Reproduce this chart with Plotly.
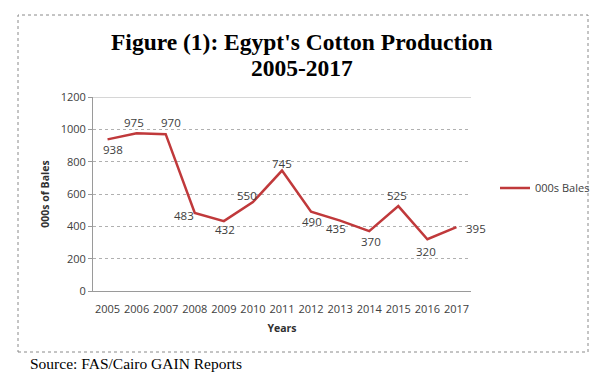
import plotly.graph_objects as go

years = ["2005", "2006", "2007", "2008", "2009", "2010", "2011", "2012", "2013", "2014", "2015", "2016", "2017"]
bales = [938, 975, 970, 483, 432, 550, 745, 490, 435, 370, 525, 320, 395]
y_ticks = [0, 200, 400, 600, 800, 1000, 1200]

# pixel offsets of each data label from its point (layout only)
label_dx = [5, -3, 5, -11, 1, -6, 0, 1, -4, 1.5, -1.5, -1, 20]
label_dy = [-10, 11, 11.5, -3, -8, 7, 7, -9.5, -7.5, -10, 10.5, -12, -1]

W, H = 607, 377
OFF = 8  # page body margin offset
L, R, T, B = 93, 471, 97, 291

def px(x):
    return (x - L) / (R - L)

def py(y):
    return (B - y) / (B - T)

FONT = "Open Sans, Liberation Sans, sans-serif"

fig = go.Figure()
fig.add_trace(go.Scatter(
    x=years, y=bales, mode="lines", name="000s Bales",
    line=dict(color="#c0393b", width=2.5),
    cliponaxis=False,
))

# category axis: annotation x given as category index
for i, (v, dx, dy) in enumerate(zip(bales, label_dx, label_dy)):
    fig.add_annotation(x=i, y=v, xref="x", yref="y", text=str(v), showarrow=False,
                       xanchor="center", yanchor="middle", xshift=dx, yshift=dy,
                       font=dict(family=FONT, size=11.5, color="#404040"))

fig.update_layout(
    width=W, height=H,
    margin=dict(l=L - OFF, r=W - (R - OFF), t=T - OFF, b=H - (B - OFF)),
    paper_bgcolor="white", plot_bgcolor="white",
    showlegend=True,
    legend=dict(x=px(495), y=py(188), xanchor="left", yanchor="middle",
                font=dict(family=FONT, size=11, color="#404040"),
                bgcolor="rgba(0,0,0,0)", itemwidth=30, tracegroupgap=0),
    xaxis=dict(type="category", range=[-0.5, 12.5], showgrid=False, showline=True,
               linecolor="#9a9a9a", linewidth=1, ticks="", ticklabelstandoff=8,
               tickfont=dict(family=FONT, size=11, color="#404040"),
               title=dict(text="<b>Years</b>", standoff=9,
                          font=dict(family=FONT, size=10.5, color="#303030")),
               fixedrange=True),
    yaxis=dict(range=[0, 1200], tickvals=y_ticks, showgrid=True, gridcolor="#b0b0b0", griddash="dot",
               gridwidth=1, showline=True, linecolor="#9a9a9a", linewidth=1, ticks="outside",
               ticklen=4, tickcolor="#9a9a9a", zeroline=False,
               tickfont=dict(family=FONT, size=11, color="#404040"),
               title=dict(text="<b>000s of Bales</b>", standoff=8,
                          font=dict(family=FONT, size=10.5, color="#303030")),
               fixedrange=True),
)

# solid top gridline
fig.add_shape(type="line", xref="paper", yref="y", x0=0, x1=1, y0=1200, y1=1200,
              line=dict(color="#c8c8c8", width=1.5))
# outer dotted border
fig.add_shape(type="rect", xref="paper", yref="paper",
              x0=px(18), x1=px(588), y0=py(352), y1=py(15),
              line=dict(color="#8a8a8a", width=1, dash="dot"))

fig.add_annotation(xref="paper", yref="paper", x=px(302), y=py(42), xanchor="center", yanchor="middle",
                   text="<b>Figure (1): Egypt's Cotton Production</b>", showarrow=False,
                   font=dict(family="Liberation Serif, serif", size=23.5, color="black"))
fig.add_annotation(xref="paper", yref="paper", x=px(302), y=py(68), xanchor="center", yanchor="middle",
                   text="<b>2005-2017</b>", showarrow=False,
                   font=dict(family="Liberation Serif, serif", size=23.5, color="black"))
fig.add_annotation(xref="paper", yref="paper", x=px(28), y=py(363), xanchor="left", yanchor="middle",
                   text="Source: FAS/Cairo GAIN Reports", showarrow=False,
                   font=dict(family="Liberation Serif, serif", size=15.5, color="black"))

fig.write_html("out.html")
